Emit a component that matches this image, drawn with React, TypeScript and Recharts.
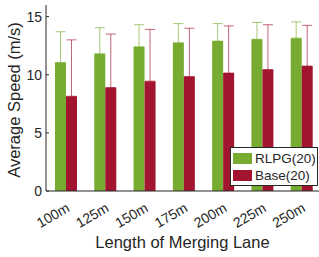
import React from 'react';
import { BarChart, Bar, XAxis, YAxis, ErrorBar, Legend } from 'recharts';

const lengths = ['100m', '125m', '150m', '175m', '200m', '225m', '250m'];
const rlpgMean = [11.05, 11.8, 12.4, 12.75, 12.9, 13.05, 13.15];
const rlpgTop = [13.7, 14.05, 14.3, 14.4, 14.4, 14.5, 14.55];
const baseMean = [8.15, 8.9, 9.45, 9.85, 10.15, 10.45, 10.75];
const baseTop = [13.0, 13.5, 13.9, 14.0, 14.2, 14.3, 14.25];
const yTicks = [0, 5, 10, 15];
const seriesNames = ['RLPG(20)', 'Base(20)'];

const data = lengths.map((name, i) => ({
  name,
  rlpg: rlpgMean[i],
  base: baseMean[i],
  rlpgErr: [0, +(rlpgTop[i] - rlpgMean[i]).toFixed(2)],
  baseErr: [0, +(baseTop[i] - baseMean[i]).toFixed(2)],
}));

const FONT = "'Liberation Sans', Arial, Helvetica, sans-serif";
const INK = '#262626';
const GREEN = '#77AC30';
const RED = '#A2142F';

const XTick = (props: any) => {
  const { x, y, payload } = props;
  const ax = x;
  const ay = y + 11;
  return (
    <text
      x={ax}
      y={ay + 10}
      textAnchor="end"
      fontSize={14}
      fontFamily={FONT}
      fill={INK}
      transform={`rotate(-30, ${ax}, ${ay})`}
    >
      {payload.value}
    </text>
  );
};

const Empty = () => <g />;

const LegendBox = (props: any) => {
  const items = [...(props.payload || [])].sort(
    (a: any, b: any) => seriesNames.indexOf(a.value) - seriesNames.indexOf(b.value)
  );
  return (
    <div
      style={{
        border: `1px solid ${INK}`,
        background: '#fff',
        width: 84,
        padding: '2px 0 1px 2px',
        fontFamily: FONT,
        fontSize: 13.5,
        color: INK,
        boxSizing: 'content-box',
      }}
    >
      {items.map((it: any) => (
        <div key={it.value} style={{ display: 'flex', alignItems: 'center', height: 17 }}>
          <span style={{ width: 19, height: 11.5, background: it.color, marginRight: 3, display: 'inline-block' }} />
          <span style={{ lineHeight: '17px' }}>{it.value}</span>
        </div>
      ))}
    </div>
  );
};

export default function App() {
  return (
    <div style={{ position: 'fixed', left: 0, top: 0, width: 319, height: 257, overflow: 'hidden', background: '#fff' }}>
      <BarChart
        width={330}
        height={257}
        data={data}
        margin={{ top: 5, right: 0, bottom: 0, left: 0 }}
        barGap={0}
        barSize={11}
      >
        <XAxis
          xAxisId="bottom"
          dataKey="name"
          height={66}
          interval={0}
          tickLine={false}
          tickSize={0}
          tickMargin={0}
          axisLine={{ stroke: INK }}
          tick={<XTick />}
          label={(p: any) => {
            const vb = p.viewBox;
            return (
              <text
                x={vb.x + vb.width / 2 - 1}
                y={248}
                textAnchor="middle"
                fontSize={16.5}
                fontFamily={FONT}
                fill={INK}
              >
                Length of Merging Lane
              </text>
            );
          }}
        />
        <XAxis
          xAxisId="top"
          orientation="top"
          dataKey="name"
          height={0}
          interval={0}
          tickSize={-3}
          tick={<Empty />}
          tickLine={{ stroke: INK }}
          axisLine={{ stroke: '#8c8c8c' }}
        />
        <YAxis
          yAxisId="left"
          width={46}
          domain={[0, 16]}
          ticks={yTicks}
          tickSize={-3}
          tickMargin={7}
          axisLine={{ stroke: INK }}
          tickLine={{ stroke: INK }}
          tick={{ fontSize: 14, fontFamily: FONT, fill: INK }}
          label={(p: any) => {
            const vb = p.viewBox;
            const cx = vb.x + 14;
            const cy = vb.y + vb.height / 2 + 2;
            return (
              <text
                x={cx}
                y={cy}
                textAnchor="middle"
                dominantBaseline="central"
                fontSize={16.5}
                fontFamily={FONT}
                fill={INK}
                transform={`rotate(-90, ${cx}, ${cy})`}
              >
                Average Speed (m/s)
              </text>
            );
          }}
        />
        <YAxis
          yAxisId="right"
          orientation="right"
          width={9}
          domain={[0, 16]}
          ticks={yTicks}
          tickSize={-3}
          tick={<Empty />}
          axisLine={{ stroke: INK }}
          tickLine={{ stroke: INK }}
        />
        <Legend
          layout="horizontal"
          verticalAlign="middle"
          align="center"
          content={<LegendBox />}
          wrapperStyle={{ position: 'absolute', left: 230, top: 147, width: 'auto', height: 'auto' }}
        />
        <Bar xAxisId="bottom" yAxisId="left" dataKey="rlpg" name={seriesNames[0]} fill={GREEN} isAnimationActive={false}>
          <ErrorBar dataKey="rlpgErr" direction="y" width={5} stroke={GREEN} strokeOpacity={0.65} strokeWidth={1} />
        </Bar>
        <Bar xAxisId="bottom" yAxisId="left" dataKey="base" name={seriesNames[1]} fill={RED} isAnimationActive={false}>
          <ErrorBar dataKey="baseErr" direction="y" width={5} stroke={RED} strokeOpacity={0.65} strokeWidth={1} />
        </Bar>
      </BarChart>
    </div>
  );
}
